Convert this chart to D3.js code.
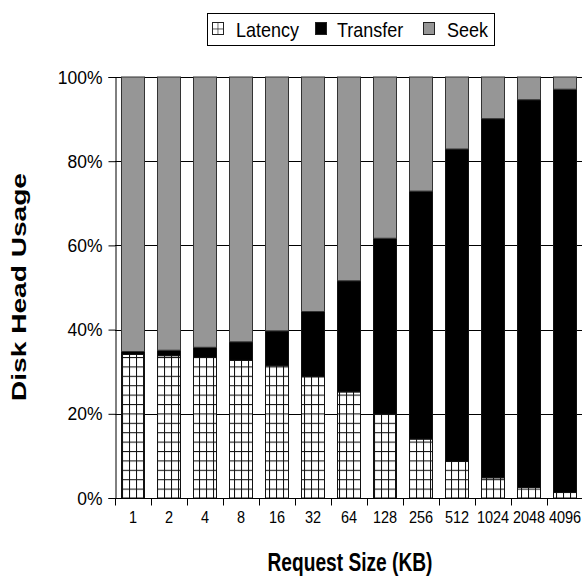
<!DOCTYPE html>
<html>
<head>
<meta charset="utf-8">
<script src="https://cdn.jsdelivr.net/npm/d3@7"></script>
<style>
  html, body { margin: 0; padding: 0; background: #fff; }
  svg { display: block; font-family: "Liberation Sans", Arial, sans-serif; }
</style>
</head>
<body>
<svg id="chart" width="582" height="580"></svg>
<script>
const categories = ["1", "2", "4", "8", "16", "32", "64", "128", "256", "512", "1024", "2048", "4096"];
const latency  = [34.1, 33.8, 33.4, 32.7, 31.4, 28.8, 25.2, 19.9, 14.0, 8.7, 4.8, 2.5, 1.3];
const transfer = [0.7, 1.3, 2.4, 4.4, 8.3, 15.5, 26.4, 41.8, 58.9, 74.2, 85.3, 92.1, 95.8];
const seek     = [65.2, 64.9, 64.2, 62.9, 60.3, 55.7, 48.4, 38.3, 27.1, 17.1, 9.9, 5.4, 2.9];
const seriesNames = ["Latency", "Transfer", "Seek"];
const yTicks = [0, 20, 40, 60, 80, 100];

const svg = d3.select("#chart");
const plotLeft = 115, plotRight = 583, plotTop = 77, plotBottom = 498;
const fontFam = "'Liberation Sans', Arial, sans-serif";

const x = d3.scaleBand().domain(categories).range([plotLeft, plotRight])
  .paddingInner(1/3).paddingOuter(1/6);
const y = d3.scaleLinear().domain([0, 100]).range([plotBottom, plotTop]);

// latency hatch pattern (grid)
const defs = svg.append("defs");
const pw = 7, ph = 9.4;
const pat = defs.append("pattern").attr("id", "grid")
  .attr("patternUnits", "userSpaceOnUse")
  .attr("x", 3).attr("y", plotBottom % ph)
  .attr("width", pw).attr("height", ph);
pat.append("rect").attr("width", pw).attr("height", ph).attr("fill", "#fff");
pat.append("line").attr("x1", 0.5).attr("x2", 0.5).attr("y1", 0).attr("y2", ph)
  .attr("stroke", "#111").attr("stroke-width", 1.1);
pat.append("line").attr("x1", 0).attr("x2", pw).attr("y1", 0.5).attr("y2", 0.5)
  .attr("stroke", "#111").attr("stroke-width", 1.1);

const legPat = defs.append("pattern").attr("id", "legGrid")
  .attr("patternUnits", "userSpaceOnUse")
  .attr("x", 212).attr("y", 22).attr("width", 5.5).attr("height", 6.5);
legPat.append("rect").attr("width", 5.5).attr("height", 6.5).attr("fill", "#fff");
legPat.append("path").attr("d", "M0,0V6.5M0,0H5.5").attr("stroke", "#111").attr("stroke-width", 1.2).attr("fill", "none");

// gridlines
svg.append("g").selectAll("line").data(yTicks.filter(d => d > 0)).join("line")
  .attr("x1", plotLeft).attr("x2", plotRight)
  .attr("y1", d => Math.round(y(d)) + 0.5).attr("y2", d => Math.round(y(d)) + 0.5)
  .attr("stroke", "#000").attr("stroke-width", 1);

// stacked data
const rows = categories.map((c, i) => ({ cat: c, Latency: latency[i], Transfer: transfer[i], Seek: seek[i] }));
const stack = d3.stack().keys(seriesNames)(rows);
const fills = { Latency: "url(#grid)", Transfer: "#000", Seek: "#969696" };
const strokes = { Latency: "#111", Transfer: "#111", Seek: "#333" };

svg.append("g").selectAll("g").data(stack).join("g")
  .attr("fill", d => fills[d.key]).attr("stroke", d => strokes[d.key]).attr("stroke-width", 1)
  .selectAll("rect").data(d => d).join("rect")
  .attr("x", d => x(d.data.cat) + 0.5)
  .attr("width", x.bandwidth() - 1)
  .attr("y", d => y(d[1]))
  .attr("height", d => y(d[0]) - y(d[1]));

// y axis
const yAxis = svg.append("g").attr("transform", `translate(${plotLeft + 0.5},0)`)
  .call(d3.axisLeft(y).tickValues(yTicks).tickFormat(d => d + "%").tickSize(7).tickPadding(6));
yAxis.selectAll("path, line").attr("stroke", "#000");
yAxis.selectAll("text").attr("font-size", 17.5).attr("fill", "#000")
  .attr("font-family", fontFam)
  .attr("transform", "scale(1,1.08)");

// x axis
const xAxis = svg.append("g").attr("transform", `translate(0,${plotBottom + 0.5})`)
  .call(d3.axisBottom(x).tickSize(0).tickPadding(13));
xAxis.select(".domain").attr("stroke", "#000").attr("d", `M${plotLeft},0H${plotRight}`);
xAxis.selectAll("text").attr("font-size", 14.5).attr("fill", "#000")
  .attr("font-family", fontFam)
  .attr("transform", "translate(0,13) scale(1,1.08) translate(0,-13)");
const gapHalf = (x.step() - x.bandwidth()) / 2;
const boundaries = categories.map(c => x(c) - gapHalf).concat([x(categories[categories.length - 1]) + x.bandwidth() + gapHalf]);
xAxis.append("g").selectAll("line").data(boundaries).join("line")
  .attr("x1", d => Math.round(d) + 0.5).attr("x2", d => Math.round(d) + 0.5)
  .attr("y1", 0).attr("y2", 7).attr("stroke", "#000");

// axis titles
svg.append("text")
  .attr("x", 350).attr("y", 571)
  .attr("text-anchor", "middle")
  .attr("font-weight", "bold").attr("font-size", 25)
  .attr("textLength", 165).attr("lengthAdjust", "spacingAndGlyphs")
  .text("Request Size (KB)");

svg.append("text")
  .attr("transform", "translate(26,287) rotate(-90)")
  .attr("text-anchor", "middle")
  .attr("font-weight", "bold").attr("font-size", 19.5)
  .attr("textLength", 228).attr("lengthAdjust", "spacingAndGlyphs")
  .text("Disk Head Usage");

// legend
const leg = svg.append("g");
leg.append("rect").attr("x", 207.5).attr("y", 13.5).attr("width", 287).attr("height", 32)
  .attr("fill", "#fff").attr("stroke", "#000").attr("stroke-width", 1);
const legItems = [
  { name: seriesNames[0], fill: "url(#legGrid)", sx: 212, tx: 236 },
  { name: seriesNames[1], fill: "#000", sx: 315, tx: 337 },
  { name: seriesNames[2], fill: "#969696", sx: 423, tx: 447 }
];
const li = leg.selectAll("g.item").data(legItems).join("g").attr("class", "item");
li.append("rect").attr("x", d => d.sx + 0.5).attr("y", 22.5).attr("width", 11).attr("height", 12)
  .attr("fill", d => d.fill).attr("stroke", "#222").attr("stroke-width", 1);
li.append("text").attr("x", d => d.tx).attr("y", 0).attr("font-size", 18).attr("fill", "#000")
  .attr("transform", "translate(0,36.5) scale(1,1.15)")
  .text(d => d.name);
</script>
</body>
</html>
